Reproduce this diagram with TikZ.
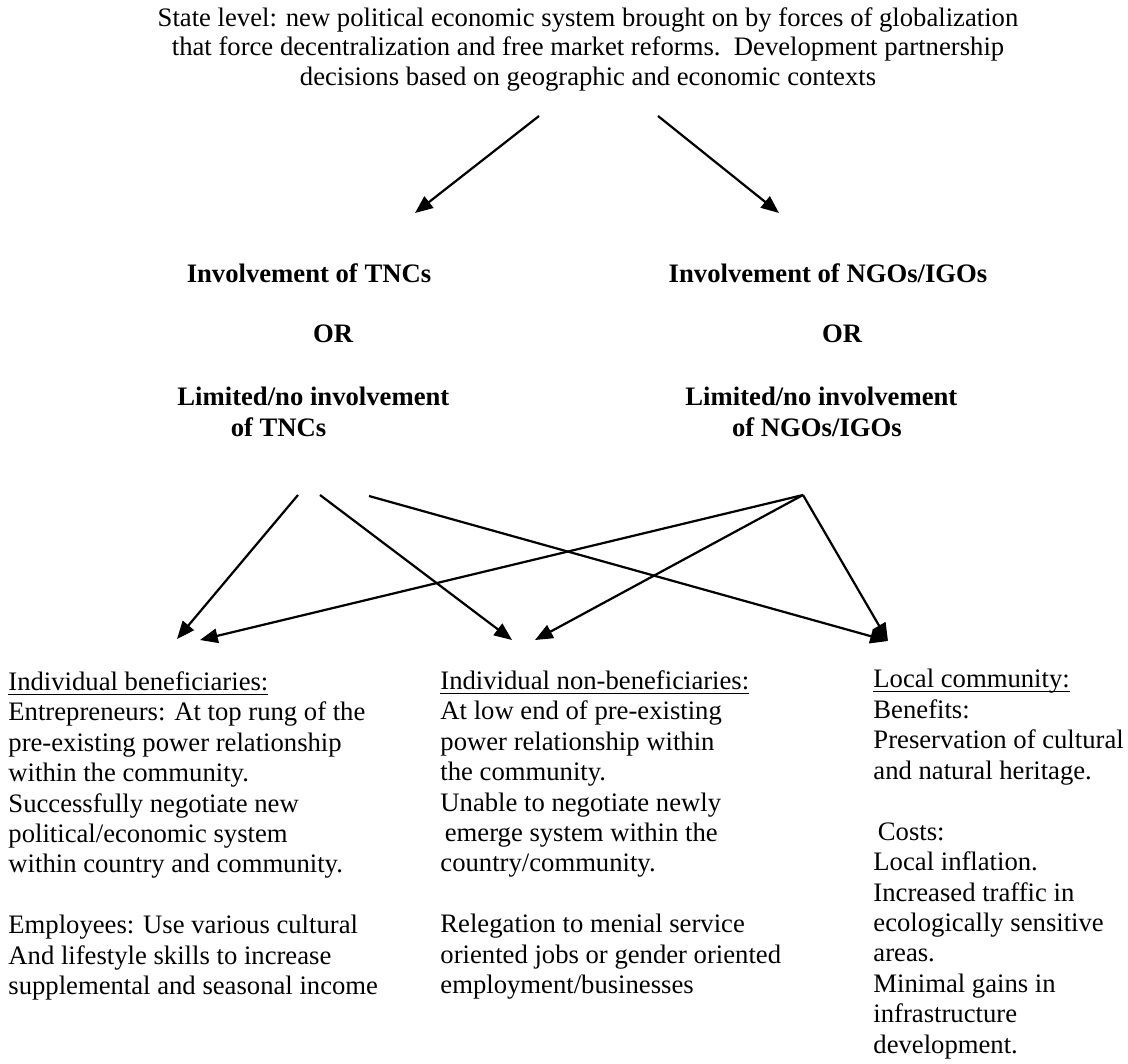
\documentclass[tikz,border=0pt]{standalone}
\usepackage{fontspec}
\setmainfont{Liberation Serif}
\usetikzlibrary{arrows.meta}
\newcommand{\hdline}[1]{\setbox0\hbox{#1}\rlap{\rule[-2pt]{\wd0}{0.5pt}}\box0}

\begin{document}
\begin{tikzpicture}[x=0.45pt, y=-0.45pt,
  txt/.style={inner sep=0pt, font=\fontsize{12}{13.7}\selectfont},
  colnode/.style={txt, align=left, anchor=north west},
  choice/.style={inner sep=0pt, font=\fontsize{12}{13.7}\selectfont\bfseries, anchor=base},
  arrow/.style={line width=1pt, -{Triangle[length=8pt, width=6.5pt]}}]
\useasboundingbox (0,0) rectangle (1128,1063);
\node[txt, align=center, anchor=north, font=\fontsize{12}{13.3}\selectfont] (state) at (588,7) {State level: new political economic system brought on by forces of globalization\\that force decentralization and free market reforms.\ \ Development partnership\\decisions based on geographic and economic contexts};
\node[choice] (inTNC) at (309,282) {Involvement of TNCs};
\node[choice] (orTNC) at (333,342) {OR};
\node[choice, align=left, anchor=north west] (limTNC) at (177,387) {Limited/no involvement\\\hspace*{24pt}of TNCs};
\node[choice] (inNGO) at (828,282) {Involvement of NGOs/IGOs};
\node[choice] (orNGO) at (842,342) {OR};
\node[choice, align=left, anchor=north west] (limNGO) at (685,387) {Limited/no involvement\\\hspace*{21pt}of NGOs/IGOs};
\node[colnode] (benef) at (8,671) {\hdline{Individual beneficiaries:}\\Entrepreneurs: At top rung of the\\pre-existing power relationship\\within the community.\\Successfully negotiate new\\political/economic system\\within country and community.\\[13.7pt]Employees: Use various cultural\\And lifestyle skills to increase\\supplemental and seasonal income};
\node[colnode] (nonbenef) at (440,670) {\hdline{Individual non-beneficiaries:}\\At low end of pre-existing\\power relationship within\\the community.\\Unable to negotiate newly\\\hspace*{2pt}emerge system within the\\country/community.\\[13.7pt]Relegation to menial service\\oriented jobs or gender oriented\\employment/businesses};
\node[colnode] (community) at (873,669) {\hdline{Local community:}\\Benefits:\\Preservation of cultural\\and natural heritage.\\[13.7pt]\hspace*{2pt}Costs:\\Local inflation.\\Increased traffic in\\ecologically sensitive\\areas.\\Minimal gains in\\infrastructure\\development.};
% arrow ends
\coordinate (stateL) at (539,116);
\coordinate (stateR) at (658,116);
\coordinate (tncTip) at (415,213);
\coordinate (ngoTip) at (779,213);
\coordinate (tncA) at (298,495);
\coordinate (tncB) at (320,495);
\coordinate (tncC) at (369,496);
\coordinate (ngoA) at (803,495);
\coordinate (benefA) at (177,639);
\coordinate (benefB) at (200,640);
\coordinate (nonA) at (512,640);
\coordinate (nonB) at (535,640);
\coordinate (commA) at (888,641);
\draw[arrow] (stateL) -- (tncTip);
\draw[arrow] (stateR) -- (ngoTip);
\draw[arrow] (tncA) -- (benefA);
\draw[arrow] (tncB) -- (nonA);
\draw[arrow] (tncC) -- (commA);
\draw[arrow] (ngoA) -- (benefB);
\draw[arrow] (ngoA) -- (nonB);
\draw[arrow] (ngoA) -- (commA);
\end{tikzpicture}
\end{document}
